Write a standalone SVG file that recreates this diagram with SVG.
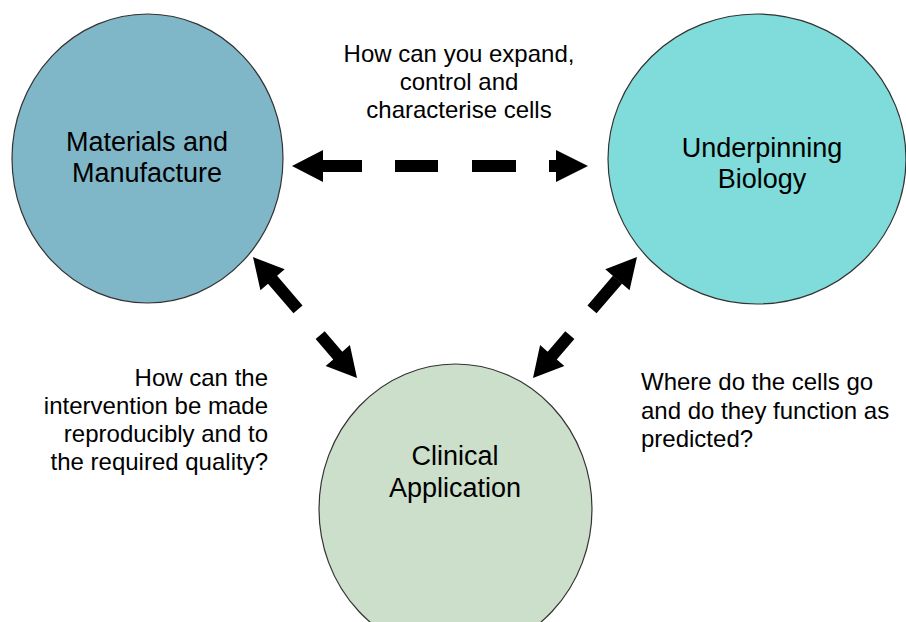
<svg xmlns="http://www.w3.org/2000/svg" width="906" height="622" viewBox="0 0 906 622">
<style>
.node{stroke:#333;stroke-width:1.2}
.lbl{font-family:"Liberation Sans",Arial,sans-serif;font-size:27px;fill:#000;text-anchor:middle}
.q{font-family:"Liberation Sans",Arial,sans-serif;font-size:24px;fill:#000}
.arr{fill:#000}
</style>
<rect width="906" height="622" fill="#fff"/>
<g id="materials">
<ellipse class="node" cx="147.5" cy="158.5" rx="135.5" ry="144.5" fill="#7FB6C8"/>
<text class="lbl" x="147" y="151">Materials and</text>
<text class="lbl" x="147" y="182">Manufacture</text>
</g>
<g id="biology">
<ellipse class="node" cx="757" cy="159" rx="149" ry="145" fill="#7FDCDA"/>
<text class="lbl" x="762" y="157">Underpinning</text>
<text class="lbl" x="762" y="188">Biology</text>
</g>
<g id="clinical">
<ellipse class="node" cx="455.5" cy="509" rx="136.5" ry="145" fill="#CCDFCA"/>
<text class="lbl" x="455" y="465">Clinical</text>
<text class="lbl" x="455" y="497">Application</text>
</g>
<g id="connectors" class="arr">
<polygon points="292,166 323,150 323,160 362,160 362,172 323,172 323,182"/>
<rect x="395" y="160" width="43" height="12"/>
<rect x="472" y="160" width="44" height="12"/>
<polygon points="549,160 556,160 556,150 588,166 556,182 556,172 549,172"/>
<g transform="translate(253,257) rotate(49.3)">
<polygon points="0,0 30,-16 30,-6 69,-6 69,6 30,6 30,16"/>
<polygon points="103,-6 130,-6 130,-16 159.5,0 130,16 130,6 103,6"/>
</g>
<g transform="translate(637,257) rotate(130.7)">
<polygon points="0,0 30,-16 30,6 69,6 69,-6 30,-6 30,16" transform="scale(1,-1)"/>
<polygon points="103,-6 130,-6 130,-16 159.5,0 130,16 130,6 103,6"/>
</g>
</g>
<g id="q-top" class="q" text-anchor="middle">
<text x="459" y="62">How can you expand,</text>
<text x="459" y="90">control and</text>
<text x="459" y="118">characterise cells</text>
</g>
<g id="q-left" class="q" text-anchor="end">
<text x="268" y="386">How can the</text>
<text x="268" y="414">intervention be made</text>
<text x="268" y="442">reproducibly and to</text>
<text x="268" y="470">the required quality?</text>
</g>
<g id="q-right" class="q">
<text x="641" y="390">Where do the cells go</text>
<text x="641" y="419">and do they function as</text>
<text x="641" y="447">predicted?</text>
</g>
</svg>
